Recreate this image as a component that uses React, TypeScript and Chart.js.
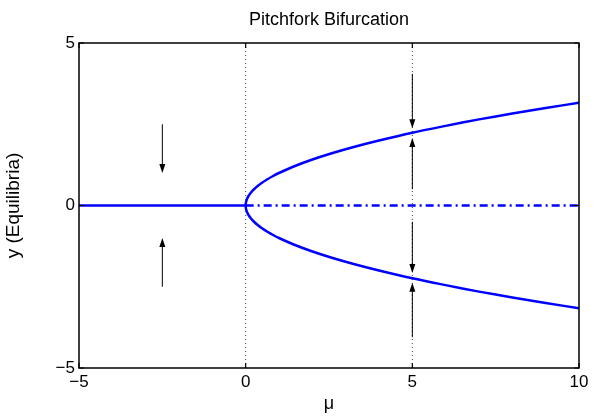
import React, { useEffect, useRef } from "react";
import { Chart, registerables } from "chart.js";

Chart.register(...registerables);

const FONT = "'Liberation Sans', Arial, Helvetica, sans-serif";

const xTicks = [-5, 0, 5, 10];
const yTicks = [-5, 0, 5];

const upperMu = [0, 0.01, 0.04, 0.09, 0.16, 0.25, 0.36, 0.49, 0.64, 0.81, 1, 1.44, 1.96, 2.56, 3.24, 4, 5, 6, 7, 8, 9, 10];
const upperY = [0, 0.1, 0.2, 0.3, 0.4, 0.5, 0.6, 0.7, 0.8, 0.9, 1, 1.2, 1.4, 1.6, 1.8, 2, 2.24, 2.45, 2.65, 2.83, 3, 3.16];
const lowerMu = [0, 0.01, 0.04, 0.09, 0.16, 0.25, 0.36, 0.49, 0.64, 0.81, 1, 1.44, 1.96, 2.56, 3.24, 4, 5, 6, 7, 8, 9, 10];
const lowerY = [0, -0.1, -0.2, -0.3, -0.4, -0.5, -0.6, -0.7, -0.8, -0.9, -1, -1.2, -1.4, -1.6, -1.8, -2, -2.24, -2.45, -2.65, -2.83, -3, -3.16];

const stableZeroMu = [-5, 0];
const stableZeroY = [0, 0];
const unstableZeroMu = [0, 10];
const unstableZeroY = [0, 0];

const guideMu = [0, 5];
const guideY = [-5, 5];

const arrowMu = [-2.5, -2.5, 5, 5, 5, 5];
const arrowFrom = [2.5, -2.5, 4.05, 0.5, -0.5, -4.05];
const arrowTo = [1.0, -1.0, 2.38, 2.08, -2.08, -2.38];

const fmt = (v: number) => (v < 0 ? "\u2212" + Math.abs(v) : String(v));

const boxPlugin = {
  id: "boxAndArrows",
  afterDatasetsDraw(chart: any) {
    const { ctx, chartArea, scales } = chart;
    const xs = scales.x;
    const ys = scales.y;
    ctx.save();
    // arrows
    ctx.strokeStyle = "#000";
    ctx.fillStyle = "#000";
    ctx.lineWidth = 1;
    for (let i = 0; i < arrowMu.length; i++) {
      const px = xs.getPixelForValue(arrowMu[i]);
      const y0 = ys.getPixelForValue(arrowFrom[i]);
      const y1 = ys.getPixelForValue(arrowTo[i]);
      const dir = y1 > y0 ? 1 : -1;
      const headLen = 9;
      const headHalf = 3;
      ctx.beginPath();
      ctx.moveTo(px, y0);
      ctx.lineTo(px, y1 - dir * headLen);
      ctx.stroke();
      ctx.beginPath();
      ctx.moveTo(px, y1);
      ctx.lineTo(px - headHalf, y1 - dir * headLen);
      ctx.lineTo(px + headHalf, y1 - dir * headLen);
      ctx.closePath();
      ctx.fill();
    }
    // box
    ctx.lineWidth = 1.5;
    ctx.strokeStyle = "#000";
    ctx.strokeRect(chartArea.left, chartArea.top, chartArea.right - chartArea.left, chartArea.bottom - chartArea.top);
    // inner ticks
    const tl = 5;
    ctx.lineWidth = 1.2;
    ctx.beginPath();
    for (const v of xTicks) {
      const px = xs.getPixelForValue(v);
      ctx.moveTo(px, chartArea.bottom);
      ctx.lineTo(px, chartArea.bottom - tl);
      ctx.moveTo(px, chartArea.top);
      ctx.lineTo(px, chartArea.top + tl);
    }
    for (const v of yTicks) {
      const py = ys.getPixelForValue(v);
      ctx.moveTo(chartArea.left, py);
      ctx.lineTo(chartArea.left + tl, py);
      ctx.moveTo(chartArea.right, py);
      ctx.lineTo(chartArea.right - tl, py);
    }
    ctx.stroke();
    ctx.restore();
  },
};

const toPts = (xs: number[], ys: number[]) => xs.map((x, i) => ({ x, y: ys[i] }));

export default function App() {
  const ref = useRef<HTMLCanvasElement | null>(null);
  useEffect(() => {
    document.body.style.margin = "0";
    const canvas = ref.current;
    if (!canvas) return;
    const pitchfork = [
      ...toPts(lowerMu, lowerY).reverse(),
      ...toPts(upperMu, upperY).slice(1),
    ];
    const chart = new Chart(canvas, {
      type: "scatter",
      data: {
        datasets: [
          {
            data: pitchfork,
            showLine: true,
            borderColor: "#0000ff",
            borderWidth: 2.5,
            pointRadius: 0,
            tension: 0.3,
            borderCapStyle: "round",
          },
          {
            data: toPts(stableZeroMu, stableZeroY),
            showLine: true,
            borderColor: "#0000ff",
            borderWidth: 2.5,
            pointRadius: 0,
          },
          {
            data: toPts(unstableZeroMu, unstableZeroY),
            showLine: true,
            borderColor: "#0000ff",
            borderWidth: 2.5,
            pointRadius: 0,
            borderDash: [8, 4, 2, 4],
          },
          {
            data: toPts([guideMu[0], guideMu[0]], guideY),
            showLine: true,
            borderColor: "#444",
            borderWidth: 1,
            pointRadius: 0,
            borderDash: [1, 3],
          },
          {
            data: toPts([guideMu[1], guideMu[1]], guideY),
            showLine: true,
            borderColor: "#444",
            borderWidth: 1,
            pointRadius: 0,
            borderDash: [1, 3],
          },
        ],
      } as any,
      options: {
        animation: false,
        responsive: false,
        devicePixelRatio: 1,
        layout: { padding: { left: 0, right: 23, top: 0, bottom: 0 } },
        plugins: {
          legend: { display: false },
          tooltip: { enabled: false },
          title: {
            display: true,
            fullSize: false,
            text: "Pitchfork Bifurcation",
            color: "#000",
            font: { family: FONT, size: 18, weight: "normal" },
            padding: { top: 9, bottom: 12.4 },
          },
        },
        scales: {
          x: {
            type: "linear",
            min: -5,
            max: 10,
            afterBuildTicks: (s: any) => {
              s.ticks = xTicks.map((v) => ({ value: v }));
            },
            afterFit: (s: any) => {
              s.height = 48;
            },
            grid: { display: false, drawTicks: false },
            border: { display: false },
            ticks: {
              color: "#000",
              font: { family: FONT, size: 17 },
              padding: 4,
              maxRotation: 0,
              autoSkip: false,
              callback: (v: any) => fmt(Number(v)),
            },
            title: {
              display: true,
              text: "\u03bc",
              color: "#000",
              font: { family: FONT, size: 18 },
              padding: { top: 0, bottom: 1 },
            },
          },
          y: {
            type: "linear",
            min: -5,
            max: 5,
            afterBuildTicks: (s: any) => {
              s.ticks = yTicks.map((v) => ({ value: v }));
            },
            afterFit: (s: any) => {
              s.width = 79;
            },
            grid: { display: false, drawTicks: false },
            border: { display: false },
            ticks: {
              color: "#000",
              font: { family: FONT, size: 17 },
              padding: 4,
              autoSkip: false,
              callback: (v: any) => fmt(Number(v)),
            },
            title: {
              display: true,
              text: "y (Equilibria)",
              color: "#000",
              font: { family: FONT, size: 19 },
              padding: { top: 2, bottom: 0 },
            },
          },
        },
      } as any,
      plugins: [boxPlugin],
    });
    return () => chart.destroy();
  }, []);
  return <canvas ref={ref} width={602} height={416} style={{ display: "block", width: 602, height: 416 }} />;
}
